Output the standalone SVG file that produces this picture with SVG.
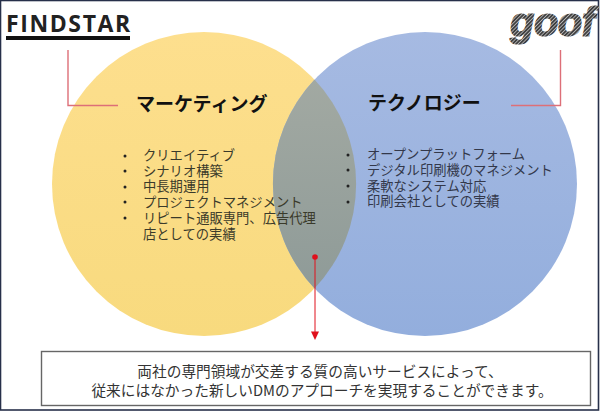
<svg xmlns="http://www.w3.org/2000/svg" width="600" height="411" viewBox="0 0 600 411">
<style>
text{font-family:"Noto Sans CJK JP","Liberation Sans",sans-serif;fill:#2b2b2b}
.h{font-size:19px;font-weight:700;fill:#111}
.l{font-size:13.3px;fill:#3a3a2a}
.r{font-size:13.3px;fill:#33384a}
.c{font-size:14.7px;fill:#333;text-anchor:middle}
.b{fill:#222}
.red{stroke:#dd6f78;stroke-width:1.4;fill:none}
</style>
<defs>
<pattern id="hatch" width="2.6" height="2.6" patternUnits="userSpaceOnUse" patternTransform="rotate(-45)">
<rect width="2.6" height="2.6" fill="#b5b5b5"/><rect width="2.6" height="1.7" fill="#3c3c3c"/>
</pattern>
<linearGradient id="y" x1="0" y1="0" x2="0" y2="1"><stop offset="0" stop-color="#fddf8e"/><stop offset="1" stop-color="#f8da7e"/></linearGradient>
<linearGradient id="bl" x1="0" y1="0" x2="0" y2="1"><stop offset="0" stop-color="#a6bae2"/><stop offset="1" stop-color="#93aedd"/></linearGradient>
<linearGradient id="g" x1="0" y1="0" x2="0" y2="1"><stop offset="0" stop-color="#a2a9a2"/><stop offset="1" stop-color="#8f9b98"/></linearGradient>
</defs>
<rect x="0.5" y="0.5" width="598" height="409.500" fill="#fff" stroke="#27304a" stroke-width="1.600"/>
<g id="logo-findstar">
<text x="6" y="32" style="font-family:'Open Sans','Liberation Sans',sans-serif;font-size:23px;font-weight:700;letter-spacing:1.6px;fill:#222">FINDSTAR</text>
<rect x="6" y="36" width="124" height="4" fill="#111"/>
</g>
<g id="logo-goof">
<text x="510" y="36" style="font-family:'Liberation Sans',sans-serif;font-size:40px;font-weight:700;font-style:italic;letter-spacing:-0.5px;fill:url(#hatch);stroke:url(#hatch);stroke-width:1.2px">goof</text>
</g>
<g id="circle-marketing">
<circle cx="204" cy="184" r="152" fill="url(#y)"/>
<text class="h" x="136" y="111">マーケティング</text>
</g>
<g id="circle-technology">
<circle cx="425" cy="184" r="152" fill="url(#bl)"/>
<text class="h" x="368" y="110">テクノロジー</text>
</g>
<g id="overlap">
<path d="M314.500,79.500A152,152 0 0 1 314.500,288.500A152,152 0 0 1 314.500,79.500Z" fill="url(#g)"/>
</g>
<g id="list-marketing">
<g class="b"><circle cx="125" cy="156" r="1.500"/><circle cx="125" cy="171" r="1.500"/><circle cx="125" cy="187" r="1.500"/><circle cx="125" cy="202" r="1.500"/><circle cx="125" cy="218" r="1.500"/></g>
<text class="l"><tspan x="143" y="160">クリエイティブ</tspan><tspan x="143" y="176">シナリオ構築</tspan><tspan x="143" y="191">中長期運用</tspan><tspan x="143" y="207">プロジェクトマネジメント</tspan><tspan x="143" y="223">リピート通販専門、広告代理</tspan><tspan x="143" y="239">店としての実績</tspan></text>
</g>
<g id="list-technology">
<g class="b"><circle cx="348" cy="155" r="1.500"/><circle cx="348" cy="170" r="1.500"/><circle cx="348" cy="186" r="1.500"/><circle cx="348" cy="202" r="1.500"/></g>
<text class="r"><tspan x="367" y="159">オープンプラットフォーム</tspan><tspan x="367" y="175">デジタル印刷機のマネジメント</tspan><tspan x="367" y="191">柔軟なシステム対応</tspan><tspan x="367" y="206">印刷会社としての実績</tspan></text>
</g>
<g id="connectors">
<path class="red" d="M68,50V105.500H118"/>
<path class="red" d="M560.500,50V105.500H511"/>
<circle cx="315" cy="257" r="2.800" fill="#e0101c"/>
<path d="M315,257V333" stroke="#e0101c" stroke-width="1" fill="none"/>
<path d="M311,331.500H319L315,340Z" fill="#e0101c"/>
</g>
<g id="summary">
<rect x="41.500" y="351.500" width="549" height="54" fill="#fff" stroke="#666" stroke-width="1.400"/>
<text class="c"><tspan x="320" y="377">両社の専門領域が交差する質の高いサービスによって、</tspan><tspan x="322" y="396">従来にはなかった新しいDMのアプローチを実現することができます。</tspan></text>
</g>
</svg>
